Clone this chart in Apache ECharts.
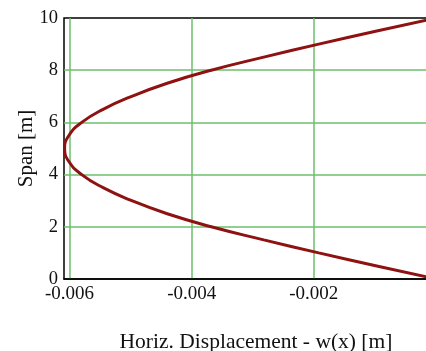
<!DOCTYPE html>
<html>
<head>
<meta charset="utf-8">
<script src="https://cdn.jsdelivr.net/npm/echarts@6/dist/echarts.min.js"></script>
<style>
  html, body { margin: 0; padding: 0; background: #fff; }
  #chart { width: 426px; height: 351px; }
</style>
</head>
<body>
<div id="chart"></div>
<script>
// span position along the member [m]
let span = [0, 0.5, 1, 1.5, 2, 2.5, 3, 3.5, 4, 4.5, 5, 5.5, 6, 6.5, 7, 7.5, 8, 8.5, 9, 9.5, 10];
// horizontal displacement w(x) [m]
let disp = [0, -0.00097, -0.00192, -0.00282, -0.00368, -0.0044, -0.00498, -0.00545, -0.0058, -0.00601, -0.00608,
  -0.00601, -0.0058, -0.00545, -0.00498, -0.0044, -0.00368, -0.00282, -0.00192, -0.00097, 0];
let yTicks = [0, 2, 4, 6, 8, 10];

let points = [];
for (let i = 0; i < span.length; i++) {
  points.push([disp[i], span[i]]);
}

let font = '"Liberation Serif", "DejaVu Serif", serif';
let gridGreen = '#6cbf6c';

let chart = echarts.init(document.getElementById('chart'), null, { renderer: 'canvas' });
chart.setOption({
  backgroundColor: '#ffffff',
  animation: false,
  grid: {
    left: 64,
    right: -10,
    top: 18,
    bottom: 72,
    outerBoundsMode: 'none',
    containLabel: false,
    show: true,
    borderColor: '#000',
    borderWidth: 1.5,
    backgroundColor: 'transparent'
  },
  xAxis: {
    type: 'value',
    min: -0.00609,
    max: 0,
    splitNumber: 3,
    name: 'Horiz. Displacement - w(x) [m]',
    nameLocation: 'middle',
    nameGap: 52,
    nameMoveOverlap: false,
    nameTextStyle: { fontFamily: font, fontSize: 21.5, color: '#111', padding: [0, 0, 0, 12] },
    axisLine: { lineStyle: { color: '#000', width: 1.5 } },
    axisTick: { show: false },
    axisLabel: {
      fontFamily: font, fontSize: 19, color: '#111', margin: 6,
      showMinLabel: false,
      showMaxLabel: false,
      formatter: function (v) { return v.toFixed(3); }
    },
    splitLine: { showMinLine: false, lineStyle: { color: gridGreen, width: 1.5 } }
  },
  yAxis: {
    type: 'value',
    min: yTicks[0],
    max: yTicks[yTicks.length - 1],
    interval: 2,
    name: 'Span [m]',
    nameLocation: 'middle',
    nameGap: 27,
    nameMoveOverlap: false,
    nameTextStyle: { fontFamily: font, fontSize: 21, color: '#111' },
    axisLine: { show: true, lineStyle: { color: '#000', width: 1.5 } },
    axisTick: { show: false },
    axisLabel: { fontFamily: font, fontSize: 18.5, color: '#111', margin: 6 },
    splitLine: { showMinLine: false, showMaxLine: false, lineStyle: { color: gridGreen, width: 1.5 } }
  },
  series: [{
    type: 'line',
    data: points,
    smooth: true,
    showSymbol: false,
    lineStyle: { color: '#8e1212', width: 3 }
  }]
});
</script>
</body>
</html>
